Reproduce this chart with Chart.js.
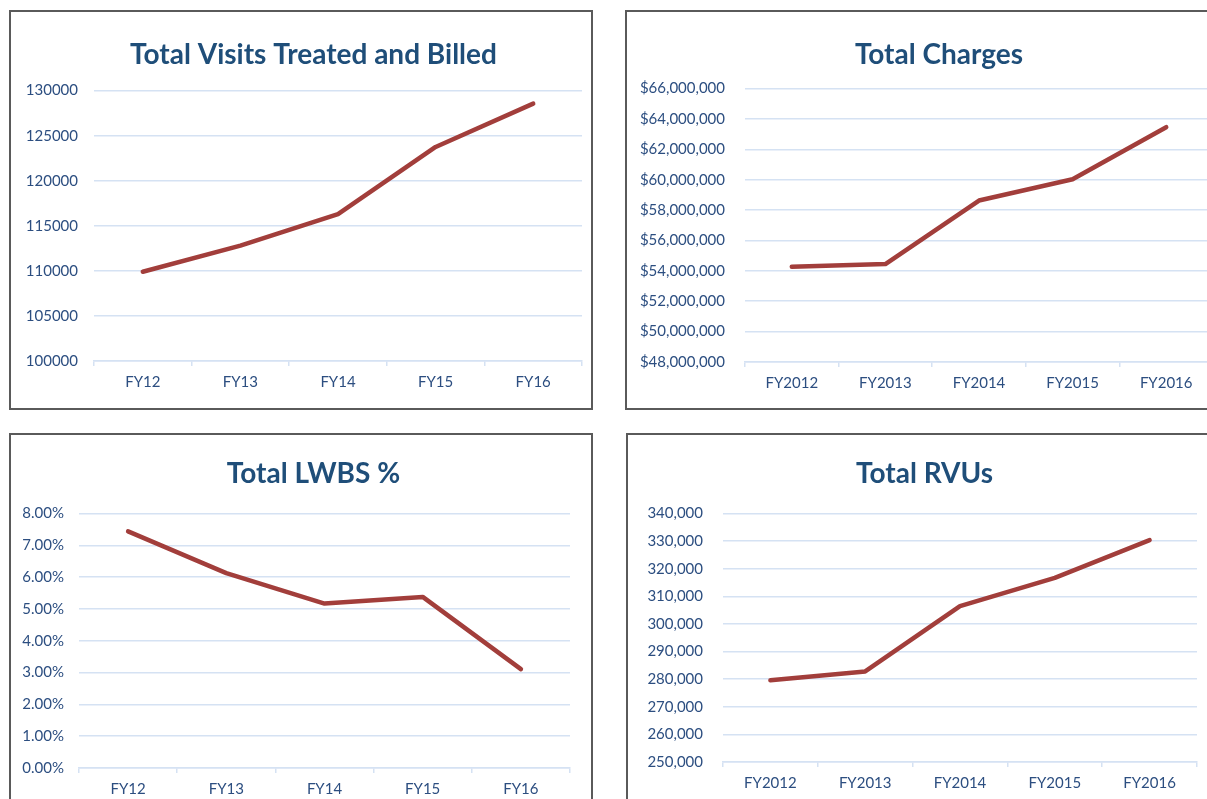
<!DOCTYPE html>
<html lang="en">
<head>
  <meta charset="UTF-8">
  <title>ED Metrics</title>
  <style>
    html, body {
      margin: 0;
      padding: 0;
      background: #ffffff;
      overflow: hidden;
    }
    .box {
      position: absolute;
      border: 2px solid #5a5a5a;
      background: #ffffff;
    }
    .box canvas {
      display: block;
    }
  </style>
</head>
<body>
  <div class="box" style="left:9px; top:10px;">
    <canvas id="visits" width="580" height="396"></canvas>
  </div>
  <div class="box" style="left:625px; top:10px;">
    <canvas id="charges" width="596" height="396"></canvas>
  </div>
  <div class="box" style="left:9px; top:433px;">
    <canvas id="lwbs" width="580" height="396"></canvas>
  </div>
  <div class="box" style="left:626px; top:433px;">
    <canvas id="rvus" width="596" height="396"></canvas>
  </div>

  <script src="https://cdn.jsdelivr.net/npm/chart.js@4.4.1/dist/chart.umd.min.js"></script>
  <script>
    // categories
    const fyShort = ['FY12', 'FY13', 'FY14', 'FY15', 'FY16'];
    const fyLong = ['FY2012', 'FY2013', 'FY2014', 'FY2015', 'FY2016'];

    // series values
    const visits = [109900, 112800, 116300, 123750, 128550];
    const charges = [54270000, 54450000, 58630000, 60030000, 63460000];
    const lwbsPct = [7.44, 6.13, 5.17, 5.38, 3.11];
    const rvus = [279600, 282800, 306500, 316700, 330400];

    // axis ranges: min, max, step
    const visitsAxis = [100000, 130000, 5000];
    const chargesAxis = [48000000, 66000000, 2000000];
    const lwbsAxis = [0, 8, 1];
    const rvusAxis = [250000, 340000, 10000];

    const titleColor = '#1f4e79';
    const tickColor = '#2c4e80';
    const gridColor = '#d5e2f3';
    const lineColor = '#a23e3b';

    Chart.defaults.font.family = 'Lato, "Open Sans", sans-serif';
    Chart.defaults.devicePixelRatio = 1;

    // the original titles sit a little right of the canvas centre
    const titleShift = {
      id: 'titleShift',
      afterLayout(chart, args, opts) {
        const t = chart.titleBlock;
        if (t) {
          t.left += opts.dx;
          t.right += opts.dx;
        }
      }
    };

    function makeChart(id, title, labels, values, axis, fmt, g) {
      const ctx = document.getElementById(id).getContext('2d');
      return new Chart(ctx, {
        type: 'line',
        data: {
          labels: labels,
          datasets: [{
            data: values,
            borderColor: lineColor,
            borderWidth: 4.5,
            borderCapStyle: 'round',
            borderJoinStyle: 'round',
            pointRadius: 0,
            tension: 0,
            fill: false
          }]
        },
        plugins: [titleShift],
        options: {
          responsive: false,
          animation: false,
          layout: {
            padding: { left: 0, right: g.padR, top: 0, bottom: 0 }
          },
          plugins: {
            legend: { display: false },
            tooltip: { enabled: false },
            titleShift: { dx: g.dx },
            title: {
              display: true,
              text: title,
              color: titleColor,
              font: { size: 28, weight: 'bold', lineHeight: 1.2 },
              padding: { top: g.titleTop, bottom: g.titleBottom }
            }
          },
          scales: {
            x: {
              offset: true,
              grid: {
                offset: true,
                drawOnChartArea: false,
                drawTicks: true,
                tickLength: 5,
                color: gridColor,
                lineWidth: 1.5
              },
              border: { color: gridColor, width: 1.5 },
              ticks: {
                color: tickColor,
                font: { size: 15 },
                padding: 7,
                maxRotation: 0
              },
              afterFit: s => { s.height = g.xHeight; }
            },
            y: {
              min: axis[0],
              max: axis[1],
              grid: {
                drawTicks: false,
                color: gridColor,
                lineWidth: 1.5
              },
              border: { display: false },
              ticks: {
                stepSize: axis[2],
                color: tickColor,
                font: { size: 15 },
                padding: g.tickPad,
                callback: fmt
              },
              afterFit: s => { s.width = g.yWidth; }
            }
          }
        }
      });
    }

    makeChart('visits', 'Total Visits Treated and Billed', fyShort, visits, visitsAxis,
      v => String(v),
      { padR: 9, dx: 17, yWidth: 83, tickPad: 16, xHeight: 47, titleTop: 26, titleBottom: 19 });

    makeChart('charges', 'Total Charges', fyLong, charges, chargesAxis,
      v => '$' + v.toLocaleString('en-US'),
      { padR: 10, dx: 19, yWidth: 118, tickPad: 20, xHeight: 46, titleTop: 26, titleBottom: 17 });

    makeChart('lwbs', 'Total LWBS %', fyShort, lwbsPct, lwbsAxis,
      v => v.toFixed(2) + '%',
      { padR: 21, dx: 23, yWidth: 68, tickPad: 15, xHeight: 63, titleTop: 22, titleBottom: 23 });

    makeChart('rvus', 'Total RVUs', fyLong, rvus, rvusAxis,
      v => v.toLocaleString('en-US'),
      { padR: 27, dx: 12, yWidth: 95, tickPad: 20, xHeight: 69, titleTop: 22, titleBottom: 23 });
  </script>
</body>
</html>
